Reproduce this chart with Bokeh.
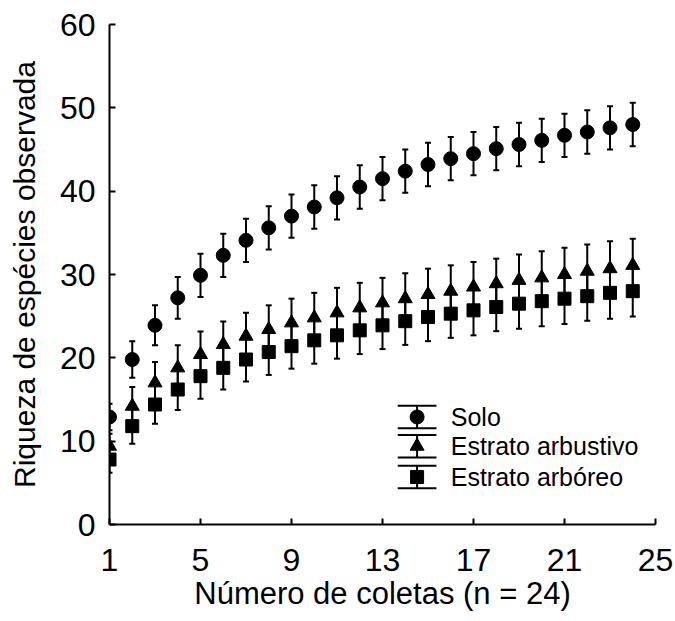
from bokeh.plotting import figure
from bokeh.models import ColumnDataSource, FixedTicker, Range1d
from bokeh.core.properties import value
from bokeh.embed import file_html
from bokeh.resources import INLINE

# Species accumulation: mean richness ± SD per number of samples
coletas = list(range(1, 25))
solo = [12.9, 19.8, 23.9, 27.2, 29.9, 32.3, 34.1, 35.6, 37.0, 38.1, 39.2, 40.5,
        41.5, 42.4, 43.2, 43.9, 44.5, 45.1, 45.6, 46.1, 46.7, 47.1, 47.6, 48.0]
solo_err = [1.6, 2.2, 2.4, 2.5, 2.6, 2.6, 2.6, 2.6, 2.6, 2.6, 2.6, 2.6,
            2.6, 2.6, 2.6, 2.6, 2.6, 2.6, 2.6, 2.6, 2.6, 2.6, 2.6, 2.6]
arbustivo = [9.4, 14.2, 17.0, 18.8, 20.4, 21.6, 22.6, 23.4, 24.2, 24.8, 25.4, 26.0,
             26.6, 27.1, 27.6, 28.0, 28.5, 28.9, 29.3, 29.6, 30.0, 30.4, 30.7, 31.1]
arbustivo_err = [1.5, 2.3, 2.5, 2.7, 2.75, 2.75, 2.8, 2.9, 2.9, 3.0, 3.0, 3.0,
                 3.0, 3.05, 3.1, 3.1, 3.0, 3.0, 3.1, 3.2, 3.2, 3.2, 3.3, 3.2]
arboreo = [7.8, 11.8, 14.4, 16.2, 17.8, 18.8, 19.8, 20.7, 21.4, 22.1, 22.7, 23.3,
           23.9, 24.4, 24.9, 25.3, 25.7, 26.1, 26.5, 26.8, 27.1, 27.4, 27.8, 28.0]
arboreo_err = [1.6, 2.1, 2.3, 2.45, 2.7, 2.6, 2.65, 2.75, 2.7, 2.8, 2.8, 2.85,
               2.85, 2.85, 2.9, 2.9, 3.0, 2.9, 3.0, 3.0, 3.05, 2.95, 3.1, 3.05]

series_names = ["Solo", "Estrato arbustivo", "Estrato arbóreo"]
series_markers = ["circle", "triangle", "square"]
series_sizes = [14, 14, 13]
x_ticks = [1, 5, 9, 13, 17, 21, 25]
y_ticks = [0, 10, 20, 30, 40, 50, 60]

FONT = "Liberation Sans"

p = figure(width=675, height=621, output_backend="svg", toolbar_location=None,
           x_range=Range1d(1, 25), y_range=Range1d(0, 60),
           min_border_left=109, min_border_right=20,
           min_border_top=24, min_border_bottom=97)
p.outline_line_color = None
p.grid.visible = False
p.background_fill_color = "white"
p.border_fill_color = "white"

for ax, ticks in ((p.xaxis, x_ticks), (p.yaxis, y_ticks)):
    ax.ticker = FixedTicker(ticks=ticks)
    ax.minor_tick_line_color = None
    ax.major_tick_in = 6
    ax.major_tick_out = 0
    ax.axis_line_width = 2
    ax.major_tick_line_width = 2
    ax.axis_line_color = "black"
    ax.major_tick_line_color = "black"
    ax.major_label_text_font = FONT
    ax.major_label_text_font_size = "32px"
    ax.major_label_text_color = "black"
    ax.axis_label_text_font = FONT
    ax.axis_label_text_font_style = "normal"
    ax.axis_label_text_color = "black"

p.xaxis.axis_label = "Número de coletas (n = 24)"
p.yaxis.axis_label = "Riqueza de espécies observada"
p.xaxis.axis_label_text_font_size = "31px"
p.yaxis.axis_label_text_font_size = "30px"
p.xaxis.major_label_standoff = 24
p.xaxis.axis_label_standoff = 2
p.yaxis.major_label_standoff = 14
p.yaxis.axis_label_standoff = 16

# Error bars as clipped glyphs (vertical segment + dash caps), then markers
series = [(solo, solo_err), (arbustivo, arbustivo_err), (arboreo, arboreo_err)]
for (vals, errs), marker, size in zip(series, series_markers, series_sizes):
    src = ColumnDataSource(dict(
        x=coletas, y=vals,
        lower=[v - e for v, e in zip(vals, errs)],
        upper=[v + e for v, e in zip(vals, errs)],
    ))
    p.segment(x0="x", y0="lower", x1="x", y1="upper", source=src,
              line_color="black", line_width=2)
    p.scatter("x", "upper", source=src, marker="dash", size=6,
              line_color="black", line_width=2)
    p.scatter("x", "lower", source=src, marker="dash", size=6,
              line_color="black", line_width=2)
    p.scatter("x", "y", source=src, marker=marker, size=size,
              fill_color="black", line_color="black")

# Legend: an error-bar symbol with its marker, then the series name
leg_x = 14.52
leg_half_w = 0.85
leg_half_h = 1.35
leg_y = [12.9, 9.4, 5.7]
leg_text_x = 16.0

leg_src = ColumnDataSource(dict(
    x=[leg_x] * 3, y=leg_y,
    x0=[leg_x - leg_half_w] * 3, x1=[leg_x + leg_half_w] * 3,
    top=[y + leg_half_h for y in leg_y], bottom=[y - leg_half_h for y in leg_y],
    marker=series_markers, size=series_sizes, label=series_names,
    tx=[leg_text_x] * 3,
))
p.segment(x0="x", y0="bottom", x1="x", y1="top", source=leg_src,
          line_color="black", line_width=2)
p.segment(x0="x0", y0="top", x1="x1", y1="top", source=leg_src,
          line_color="black", line_width=2)
p.segment(x0="x0", y0="bottom", x1="x1", y1="bottom", source=leg_src,
          line_color="black", line_width=2)
p.scatter("x", "y", source=leg_src, marker="marker", size="size",
          fill_color="black", line_color="black")
p.text("tx", "y", text="label", source=leg_src, text_font=value(FONT),
       text_font_size="25px", text_baseline="middle", text_align="left",
       text_color="black")

open("out.html", "w").write(file_html(p, INLINE))
